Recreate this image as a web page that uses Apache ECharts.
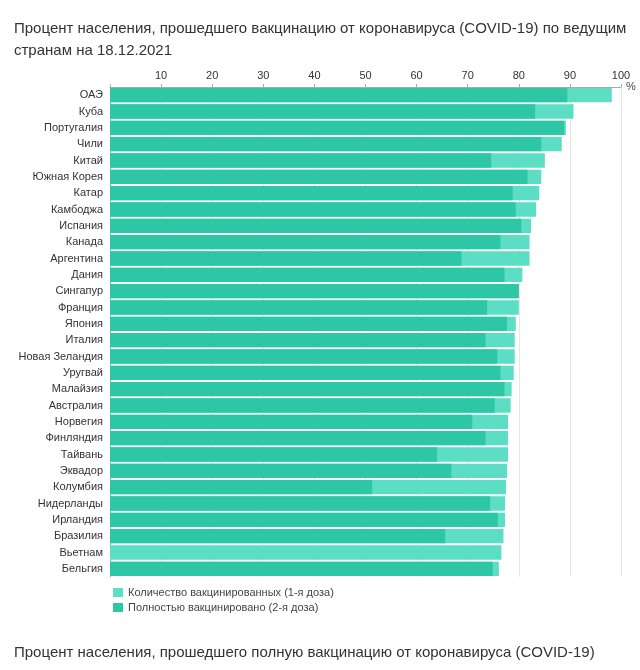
<!DOCTYPE html>
<html>
<head>
<meta charset="utf-8">
<script src="https://cdn.jsdelivr.net/npm/echarts@6/dist/echarts.min.js"></script>
<style>
  html, body { margin: 0; padding: 0; background: #fff; }
  #chart { width: 640px; height: 670px; }
</style>
</head>
<body>
<div id="chart"></div>
<script>
var countries = [
  "ОАЭ", "Куба", "Португалия", "Чили", "Китай", "Южная Корея", "Катар",
  "Камбоджа", "Испания", "Канада", "Аргентина", "Дания", "Сингапур",
  "Франция", "Япония", "Италия", "Новая Зеландия", "Уругвай", "Малайзия",
  "Австралия", "Норвегия", "Финляндия", "Тайвань", "Эквадор", "Колумбия",
  "Нидерланды", "Ирландия", "Бразилия", "Вьетнам", "Бельгия"
];
// 1-я доза (all vaccinated, %)
var firstDose = [
  98.2, 90.7, 89.2, 88.4, 85.1, 84.4, 84.0,
  83.4, 82.4, 82.1, 82.1, 80.7, 80.0,
  80.0, 79.4, 79.2, 79.2, 79.0, 78.6,
  78.4, 77.9, 77.9, 77.9, 77.7, 77.5,
  77.3, 77.3, 77.0, 76.6, 76.1
];
// 2-я доза (fully vaccinated, %)
var fullDose = [
  89.5, 83.2, 88.9, 84.4, 74.6, 81.7, 78.8,
  79.4, 80.5, 76.4, 68.8, 77.2, 80.0,
  73.8, 77.7, 73.5, 75.8, 76.4, 77.2,
  75.3, 70.9, 73.5, 64.0, 66.8, 51.3,
  74.4, 75.9, 65.6, null, 74.9
];
var axisTicks = [0, 10, 20, 30, 40, 50, 60, 70, 80, 90, 100];

var chart = echarts.init(document.getElementById("chart"));
var font = "Liberation Sans, Arial, sans-serif";
var option = {
  textStyle: { fontFamily: font },
  animation: false,
  title: [
    {
      text: "Процент населения, прошедшего вакцинацию от коронавируса (COVID-19) по ведущим\nстранам на 18.12.2021",
      left: 9,
      top: 13,
      textStyle: { fontSize: 15, fontWeight: "normal", color: "#333", lineHeight: 22, fontFamily: font }
    },
    {
      text: "Процент населения, прошедшего полную вакцинацию от коронавируса (COVID-19)",
      left: 9,
      top: 640,
      textStyle: { fontSize: 15, fontWeight: "normal", color: "#333", fontFamily: font }
    }
  ],
  legend: {
    orient: "vertical",
    left: 108,
    top: 582,
    itemWidth: 10,
    itemHeight: 9,
    itemGap: 4,
    icon: "rect",
    textStyle: { fontSize: 11, color: "#444", fontFamily: font },
    data: ["Количество вакцинированных (1-я доза)", "Полностью вакцинировано (2-я доза)"]
  },
  grid: { left: 110, right: 19, top: 87, bottom: 93 },
  xAxis: {
    type: "value",
    position: "top",
    min: axisTicks[0],
    max: axisTicks[axisTicks.length - 1],
    interval: 10,
    name: "%",
    nameLocation: "end",
    nameGap: 5,
    nameTextStyle: { fontSize: 11, color: "#444", padding: [18, 0, 0, 0] },
    axisLine: { show: true, lineStyle: { color: "#aaa" } },
    axisTick: { show: true, length: 3, lineStyle: { color: "#aaa" } },
    axisLabel: {
      fontSize: 11,
      color: "#333",
      margin: 6,
      formatter: function (v) { return v === 0 ? "" : v; }
    },
    splitLine: { show: true, lineStyle: { color: "#e6e6e6" } }
  },
  yAxis: {
    type: "category",
    inverse: true,
    data: countries,
    axisLine: { show: true, lineStyle: { color: "#aaa" } },
    axisTick: { show: false },
    axisLabel: { fontSize: 11, color: "#333", margin: 7 }
  },
  series: [
    {
      name: "Количество вакцинированных (1-я доза)",
      type: "bar",
      data: firstDose,
      barCategoryGap: "12%",
      barGap: "-100%",
      itemStyle: { color: "#5cdec5" }
    },
    {
      name: "Полностью вакцинировано (2-я доза)",
      type: "bar",
      data: fullDose,
      barCategoryGap: "12%",
      barGap: "-100%",
      itemStyle: { color: "#2ec7a6" }
    }
  ]
};
chart.setOption(option);
</script>
</body>
</html>
